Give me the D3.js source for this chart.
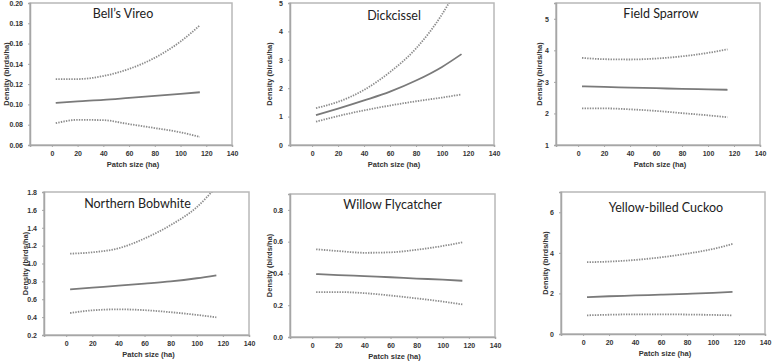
<!DOCTYPE html>
<html>
<head>
<meta charset="utf-8">
<script src="https://cdn.jsdelivr.net/npm/d3@7"></script>
<style>
  body { margin: 0; background: #fff; }
  svg { display: block; }
</style>
</head>
<body>
<svg id="chart"></svg>
<script>
let width = 772, height = 362;

// Data: patch size (ha) grid shared by every curve
let patch = [3, 20, 40, 60, 80, 100, 115];

let species = ["Bell\u2019s Vireo", "Dickcissel", "Field Sparrow",
  "Northern Bobwhite", "Willow Flycatcher", "Yellow-billed Cuckoo"];

let bellMean  = [0.1015, 0.103, 0.1045, 0.1065, 0.1085, 0.1105, 0.112];
let bellUpper = [0.125, 0.125, 0.128, 0.135, 0.146, 0.162, 0.178];
let bellLower = [0.0815, 0.0848, 0.0845, 0.0806, 0.0767, 0.0725, 0.068];

let dickMean  = [1.05, 1.28, 1.57, 1.88, 2.27, 2.75, 3.2];
let dickUpper = [1.3, 1.52, 1.94, 2.57, 3.4, 4.6, 5.8];
let dickLower = [0.82, 1.02, 1.22, 1.39, 1.54, 1.67, 1.78];

let fispMean  = [2.86, 2.84, 2.82, 2.80, 2.78, 2.765, 2.75];
let fispUpper = [3.76, 3.72, 3.71, 3.74, 3.81, 3.92, 4.03];
let fispLower = [2.16, 2.16, 2.13, 2.08, 2.01, 1.94, 1.88];

let bobMean  = [0.711, 0.73, 0.752, 0.775, 0.80, 0.835, 0.868];
let bobUpper = [1.11, 1.125, 1.17, 1.28, 1.43, 1.63, 1.86];
let bobLower = [0.446, 0.476, 0.487, 0.478, 0.455, 0.425, 0.398];

let wiflMean  = [0.396, 0.39, 0.383, 0.376, 0.368, 0.361, 0.354];
let wiflUpper = [0.552, 0.541, 0.530, 0.533, 0.549, 0.573, 0.596];
let wiflLower = [0.283, 0.283, 0.276, 0.261, 0.243, 0.223, 0.205];

let ybcuMean  = [1.82, 1.86, 1.90, 1.94, 1.98, 2.03, 2.08];
let ybcuUpper = [3.54, 3.57, 3.65, 3.78, 3.96, 4.19, 4.44];
let ybcuLower = [0.92, 0.95, 0.97, 0.97, 0.96, 0.94, 0.92];

// Tick labels
let xTicks = [0, 20, 40, 60, 80, 100, 120, 140];
let bellTicks = [0.06, 0.08, 0.10, 0.12, 0.14, 0.16, 0.18, 0.20];
let dickTicks = [0, 1, 2, 3, 4, 5];
let fispTicks = [1, 2, 3, 4, 5];
let bobTicks = [0.2, 0.4, 0.6, 0.8, 1.0, 1.2, 1.4, 1.6, 1.8];
let wiflTicks = [0.0, 0.2, 0.4, 0.6, 0.8];
let ybcuTicks = [0, 2, 4, 6];

// Panel layout (plot box in px) and y domains
let panels = [
  { name: species[0], mean: bellMean, upper: bellUpper, lower: bellLower, ticks: bellTicks, fmt: ".2f",
    yDomain: [0.06, 0.20], box: { l: 30, r: 232, t: 3, b: 145 }, titleDx: -8, titleY: 18, yLabX: 6 },
  { name: species[1], mean: dickMean, upper: dickUpper, lower: dickLower, ticks: dickTicks, fmt: "d",
    yDomain: [0, 5], box: { l: 290, r: 494, t: 3, b: 145 }, titleDx: 2, titleY: 20, yLabX: 269 },
  { name: species[2], mean: fispMean, upper: fispUpper, lower: fispLower, ticks: fispTicks, fmt: "d",
    yDomain: [1, 5.5], box: { l: 556, r: 760, t: 3, b: 145 }, titleDx: 3, titleY: 18, yLabX: 539 },
  { name: species[3], mean: bobMean, upper: bobUpper, lower: bobLower, ticks: bobTicks, fmt: ".1f",
    yDomain: [0.2, 1.8], box: { l: 44, r: 249, t: 192, b: 335 }, titleDx: -9, titleY: 208, yLabX: 25 },
  { name: species[4], mean: wiflMean, upper: wiflUpper, lower: wiflLower, ticks: wiflTicks, fmt: ".1f",
    yDomain: [0, 0.9], box: { l: 290, r: 495, t: 194, b: 337 }, titleDx: 0, titleY: 209, yLabX: 269 },
  { name: species[5], mean: ybcuMean, upper: ybcuUpper, lower: ybcuLower, ticks: ybcuTicks, fmt: "d",
    yDomain: [0, 7], box: { l: 561, r: 765, t: 192, b: 334 }, titleDx: 3, titleY: 212, yLabX: 545 }
];

let svg = d3.select("#chart")
  .attr("width", width)
  .attr("height", height)
  .attr("viewBox", [0, 0, width, height]);

let axisCol = "#a6a6a6";
let textCol = "#333";
let lineCol = "#7a7a7a";

panels.forEach((p, i) => {
  let b = p.box;
  let g = svg.append("g");

  let xScale = d3.scaleLinear().domain([-17, 140]).range([b.l, b.r]);
  let yScale = d3.scaleLinear().domain(p.yDomain).range([b.b, b.t]);

  // Plot box
  g.append("rect")
    .attr("x", b.l)
    .attr("y", b.t)
    .attr("width", b.r - b.l)
    .attr("height", b.b - b.t)
    .attr("fill", "none")
    .attr("stroke", "#b8b8b8")
    .attr("stroke-width", 1.5);

  // Axes
  let xAxis = d3.axisBottom(xScale).tickValues(xTicks).tickSize(2).tickPadding(4);
  let yAxis = d3.axisLeft(yScale).tickValues(p.ticks).tickSize(2).tickPadding(5)
    .tickFormat(d3.format(p.fmt));

  g.append("g")
    .attr("transform", `translate(0,${b.b})`)
    .call(xAxis)
    .call(a => a.select(".domain").attr("stroke", axisCol).attr("stroke-width", 1.5))
    .call(a => a.selectAll(".tick line").attr("stroke", axisCol))
    .selectAll("text")
    .style("font-family", "'Liberation Sans', Arial, sans-serif")
    .style("font-size", "7px")
    .style("font-weight", "bold")
    .style("fill", textCol);

  g.append("g")
    .attr("transform", `translate(${b.l},0)`)
    .call(yAxis)
    .call(a => a.select(".domain").attr("stroke", axisCol).attr("stroke-width", 1.5))
    .call(a => a.selectAll(".tick line").attr("stroke", axisCol))
    .selectAll("text")
    .style("font-family", "'Liberation Sans', Arial, sans-serif")
    .style("font-size", "7px")
    .style("font-weight", "bold")
    .style("fill", textCol);

  // Clip curves to the plot area
  let clipId = "clip" + i;
  svg.append("clipPath").attr("id", clipId)
    .append("rect")
    .attr("x", b.l).attr("y", b.t)
    .attr("width", b.r - b.l).attr("height", b.b - b.t);

  let line = d3.line()
    .x((d, j) => xScale(patch[j]))
    .y(d => yScale(d))
    .curve(d3.curveMonotoneX);

  let curves = g.append("g").attr("clip-path", `url(#${clipId})`);

  [p.upper, p.lower].forEach(s => {
    curves.append("path")
      .attr("d", line(s))
      .attr("fill", "none")
      .attr("stroke", "#8c8c8c")
      .attr("stroke-width", 1.8)
      .attr("stroke-dasharray", "1.4,1.2");
  });

  curves.append("path")
    .attr("d", line(p.mean))
    .attr("fill", "none")
    .attr("stroke", lineCol)
    .attr("stroke-width", 1.8);

  // Species title
  g.append("text")
    .attr("x", (b.l + b.r) / 2 + p.titleDx)
    .attr("y", p.titleY)
    .attr("text-anchor", "middle")
    .style("font-family", "Lato, 'Open Sans', sans-serif")
    .style("font-size", "12.5px")
    .style("fill", "#222")
    .text(p.name);

  // Axis titles
  g.append("text")
    .attr("x", (b.l + b.r) / 2 + 2)
    .attr("y", b.b + 22)
    .attr("text-anchor", "middle")
    .style("font-family", "'Liberation Sans', Arial, sans-serif")
    .style("font-size", "7.5px")
    .style("font-weight", "bold")
    .style("fill", textCol)
    .text("Patch size (ha)");

  g.append("text")
    .attr("transform", `rotate(-90)`)
    .attr("x", -(b.t + b.b) / 2)
    .attr("y", p.yLabX + 3)
    .attr("text-anchor", "middle")
    .style("font-family", "'Liberation Sans', Arial, sans-serif")
    .style("font-size", "7.5px")
    .style("font-weight", "bold")
    .style("fill", textCol)
    .text("Density (birds/ha)");
});
</script>
</body>
</html>
